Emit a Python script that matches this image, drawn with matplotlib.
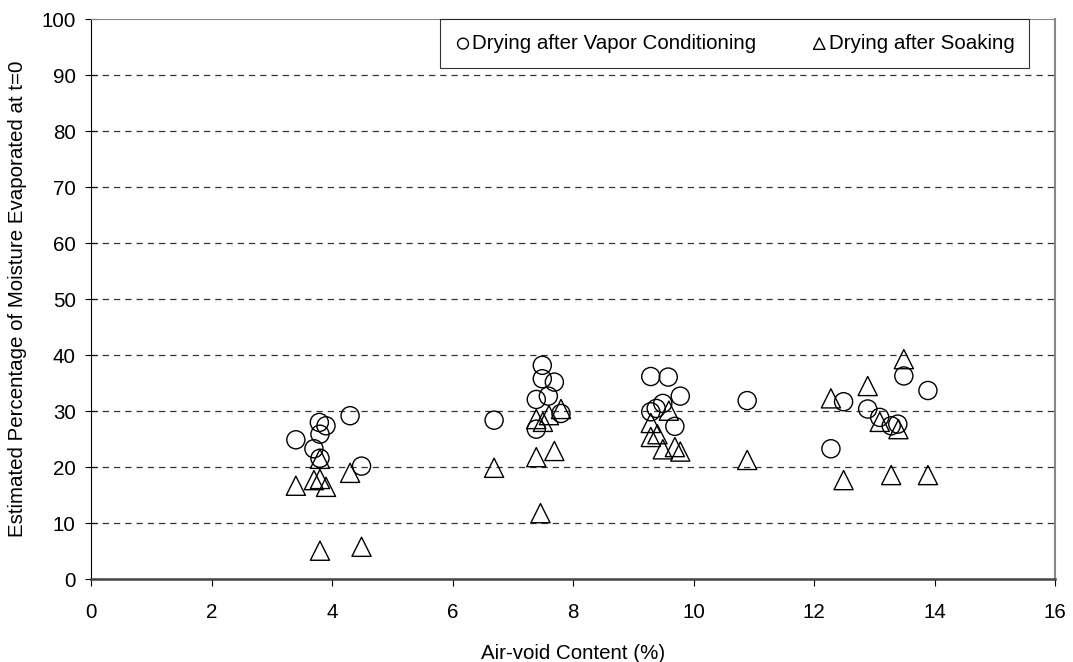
import matplotlib
matplotlib.use('Agg')
import matplotlib.pyplot as plt

plt.rcParams['font.family'] = ['Liberation Sans', 'DejaVu Sans']

# air-void content (%) and % moisture evaporated at t=0
vapor_x = [3.40, 3.79, 3.90, 3.80, 3.70, 3.80, 4.30, 4.49, 6.69,
           7.49, 7.49, 7.69, 7.59, 7.39, 7.39, 7.80,
           9.29, 9.58, 9.78, 9.29, 9.38, 9.49, 9.69, 10.89,
           12.49, 12.28, 12.89, 13.09, 13.28, 13.39, 13.49, 13.89]
vapor_y = [24.9, 28.0, 27.4, 25.9, 23.3, 21.6, 29.2, 20.2, 28.4,
           38.2, 35.8, 35.2, 32.7, 32.1, 26.8, 29.6,
           36.2, 36.1, 32.7, 29.9, 30.5, 31.4, 27.3, 31.9,
           31.7, 23.3, 30.4, 28.9, 27.4, 27.7, 36.3, 33.7]
soak_x = [3.40, 3.70, 3.80, 3.90, 3.80, 4.30, 3.80, 4.49, 6.69,
          7.39, 7.50, 7.60, 7.80, 7.39, 7.69, 7.46,
          9.29, 9.29, 9.40, 9.59, 9.49, 9.69, 9.78, 10.89,
          12.28, 12.49, 12.89, 13.09, 13.40, 13.28, 13.49, 13.89]
soak_y = [16.7, 17.7, 17.9, 16.5, 21.5, 19.0, 5.1, 5.8, 19.9,
          28.6, 28.1, 29.3, 30.4, 21.8, 22.9, 11.8,
          27.9, 25.4, 25.9, 30.1, 23.2, 23.6, 22.8, 21.3,
          32.3, 17.7, 34.5, 28.1, 26.8, 18.6, 39.3, 18.6]

fs = 14.8

fig = plt.figure(figsize=(10.73, 6.62), dpi=100)
ax = fig.add_axes([0.0848, 0.125, 0.8985, 0.846])

ax.scatter(vapor_x, vapor_y, s=170, marker='o', facecolors='none',
           edgecolors='black', linewidths=1.0, zorder=3,
           label='Drying after Vapor Conditioning')
ax.scatter(soak_x, soak_y, s=190, marker='^', facecolors='none',
           edgecolors='black', linewidths=1.0, zorder=3,
           label='Drying after Soaking')

ax.set_xlim(0, 16)
ax.set_ylim(0, 100)
ax.set_xticks(range(0, 17, 2))
ax.set_yticks(range(0, 101, 10))
for yv in range(10, 100, 10):
    ax.axhline(yv, color='#333333', lw=0.9, ls=(0, (5, 4)), zorder=1)

ax.spines['left'].set_color('black')
ax.spines['bottom'].set_color('#444444')
ax.spines['bottom'].set_linewidth(1.8)
ax.spines['top'].set_color('#888888')
ax.spines['right'].set_color('#888888')
ax.spines['right'].set_linewidth(1.5)
ax.tick_params(axis='y', direction='inout', length=8, labelsize=fs, pad=7)
ax.tick_params(axis='x', direction='out', length=5, labelsize=fs, pad=12)

ax.set_xlabel('Air-void Content (%)', fontsize=fs, labelpad=16)
ax.set_ylabel('Estimated Percentage of Moisture Evaporated at t=0', fontsize=fs, labelpad=10)

leg = ax.legend(loc='upper left', ncol=2, fontsize=fs, frameon=True,
                fancybox=False, edgecolor='black', markerscale=0.6,
                handletextpad=0.05, handlelength=0.8, borderpad=0.72,
                mode='expand', borderaxespad=0.0,
                bbox_to_anchor=(0.362, 0.916, 0.611, 0.084))
leg.get_frame().set_linewidth(0.8)

fig.savefig('out.png', dpi=100)
